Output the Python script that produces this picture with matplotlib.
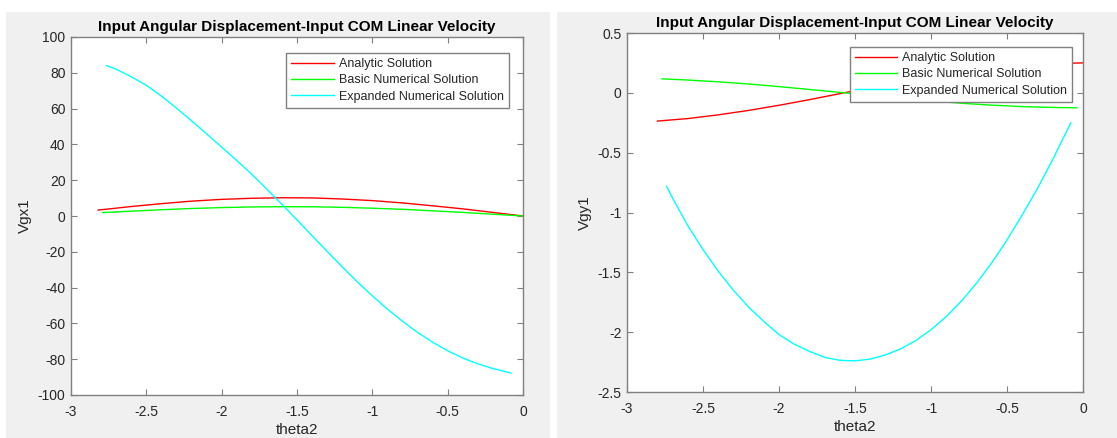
import matplotlib
matplotlib.use('Agg')
import matplotlib.pyplot as plt
from matplotlib.patches import Rectangle

plt.rcParams['font.family'] = ['Liberation Sans', 'DejaVu Sans']
plt.rcParams['axes.unicode_minus'] = False

# left panel: Vgx1
theta_red_x = [-2.82, -2.6, -2.4, -2.2, -2.0, -1.8, -1.6, -1.4, -1.2, -1.0, -0.8, -0.6, -0.4, -0.2, 0.0]
vgx_red = [3.3, 5.3, 6.9, 8.3, 9.3, 9.9, 10.2, 10.1, 9.5, 8.6, 7.3, 5.7, 4.0, 2.0, 0.0]
theta_green_x = [-2.79, -2.6, -2.4, -2.2, -2.0, -1.8, -1.6, -1.4, -1.2, -1.0, -0.8, -0.6, -0.4, -0.2, 0.0]
vgx_green = [1.9, 2.7, 3.5, 4.2, 4.7, 5.05, 5.2, 5.15, 4.85, 4.35, 3.75, 2.9, 2.0, 1.0, 0.0]
theta_cyan_x = [-2.764, -2.7, -2.6, -2.5, -2.4, -2.3, -2.2, -2.1, -2.0, -1.9, -1.8, -1.7, -1.6, -1.5,
                -1.4, -1.3, -1.2, -1.1, -1.0, -0.9, -0.8, -0.7, -0.6, -0.5, -0.4, -0.3, -0.2, -0.08]
vgx_cyan = [84.0, 82.0, 77.8, 73.0, 67.0, 60.3, 53.2, 45.9, 38.5, 31.0, 23.3, 15.0, 6.5, -2.2,
            -11.0, -19.8, -28.4, -36.8, -44.6, -52.0, -58.8, -65.0, -70.5, -75.3, -79.3, -82.6, -85.2, -87.7]

# right panel: Vgy1
theta_red_y = [-2.8, -2.6, -2.4, -2.2, -2.0, -1.8, -1.6, -1.4, -1.2, -1.0, -0.8, -0.6, -0.4, -0.2, 0.0]
vgy_red = [-0.236, -0.215, -0.184, -0.147, -0.104, -0.057, -0.007, 0.043, 0.09, 0.135, 0.174, 0.206, 0.23, 0.245, 0.25]
theta_green_y = [-2.77, -2.6, -2.4, -2.2, -2.0, -1.8, -1.6, -1.4, -1.2, -1.0, -0.8, -0.6, -0.4, -0.2, -0.04]
vgy_green = [0.117, 0.107, 0.092, 0.074, 0.052, 0.028, 0.004, -0.021, -0.045, -0.067, -0.087, -0.103, -0.115, -0.122, -0.125]
theta_cyan_y = [-2.74, -2.7, -2.6, -2.5, -2.4, -2.3, -2.2, -2.1, -2.0, -1.9, -1.8, -1.7, -1.6, -1.5,
                -1.4, -1.3, -1.2, -1.1, -1.0, -0.9, -0.8, -0.7, -0.6, -0.5, -0.4, -0.3, -0.2, -0.08]
vgy_cyan = [-0.78, -0.88, -1.11, -1.31, -1.49, -1.65, -1.79, -1.91, -2.02, -2.10, -2.16, -2.21, -2.235, -2.24,
            -2.225, -2.19, -2.14, -2.07, -1.98, -1.87, -1.74, -1.59, -1.42, -1.23, -1.02, -0.80, -0.56, -0.25]

labels = ['Analytic Solution', 'Basic Numerical Solution', 'Expanded Numerical Solution']
title = 'Input Angular Displacement-Input COM Linear Velocity'

fig = plt.figure(figsize=(11.17, 4.38), dpi=100)
fig.patch.set_facecolor('white')

# gray figure backgrounds (two MATLAB windows)
fig.patches.append(Rectangle((6 / 1117, 0), 544 / 1117, 1 - 12 / 438, transform=fig.transFigure,
                             facecolor='#f0f0f0', edgecolor='none', zorder=-10))
fig.patches.append(Rectangle((557 / 1117, 0), 560 / 1117, 1 - 12 / 438, transform=fig.transFigure,
                             facecolor='#f0f0f0', edgecolor='none', zorder=-10))

ax1 = fig.add_axes([71 / 1117, 1 - 395 / 438, 452 / 1117, 358 / 438])
ax2 = fig.add_axes([627 / 1117, 1 - 392 / 438, 456 / 1117, 359 / 438])


def style(ax):
    ax.set_facecolor('white')
    for s in ax.spines.values():
        s.set_color('#808080')
        s.set_linewidth(1.0)
    ax.tick_params(direction='in', length=4, width=0.8, color='#808080',
                   top=True, right=True, labelsize=10, labelcolor='#262626', pad=4)
    ax.tick_params(axis='x', pad=7)
    ax.set_title(title, fontsize=11, fontweight='bold', color='black', pad=4)
    ax.set_xlabel('theta2', fontsize=11, color='#262626', labelpad=3)


ax1.plot(theta_red_x, vgx_red, color='#ff0000', lw=1.0, label=labels[0])
ax1.plot(theta_green_x, vgx_green, color='#00ff00', lw=1.0, label=labels[1])
ax1.plot(theta_cyan_x, vgx_cyan, color='#00ffff', lw=1.0, label=labels[2])
ax1.set_xlim(-3, 0)
ax1.set_ylim(-100, 100)
ax1.set_xticks([-3, -2.5, -2, -1.5, -1, -0.5, 0])
ax1.set_xticklabels(['-3', '-2.5', '-2', '-1.5', '-1', '-0.5', '0'])
ax1.set_yticks(range(-100, 101, 20))
ax1.set_ylabel('Vgx1', fontsize=11, color='#262626', labelpad=4)
style(ax1)

ax2.plot(theta_red_y, vgy_red, color='#ff0000', lw=1.0, label=labels[0])
ax2.plot(theta_green_y, vgy_green, color='#00ff00', lw=1.0, label=labels[1])
ax2.plot(theta_cyan_y, vgy_cyan, color='#00ffff', lw=1.0, label=labels[2])
ax2.set_xlim(-3, 0)
ax2.set_ylim(-2.5, 0.5)
ax2.set_xticks([-3, -2.5, -2, -1.5, -1, -0.5, 0])
ax2.set_xticklabels(['-3', '-2.5', '-2', '-1.5', '-1', '-0.5', '0'])
ax2.set_yticks([-2.5, -2, -1.5, -1, -0.5, 0, 0.5])
ax2.set_yticklabels(['-2.5', '-2', '-1.5', '-1', '-0.5', '0', '0.5'])
ax2.set_ylabel('Vgy1', fontsize=11, color='#262626', labelpad=4)
style(ax2)

for ax, anchor in [(ax1, (0.969, 0.955)), (ax2, (0.976, 0.961))]:
    leg = ax.legend(loc='upper right', bbox_to_anchor=anchor, borderaxespad=0,
                    fontsize=9, handlelength=3.4, handletextpad=0.4,
                    labelspacing=0.35, borderpad=0.4, fancybox=False, framealpha=1)
    leg.get_frame().set_edgecolor('#808080')
    leg.get_frame().set_linewidth(1.0)
    for t in leg.get_texts():
        t.set_color('#262626')

fig.savefig('out.png', dpi=100, facecolor='white')
